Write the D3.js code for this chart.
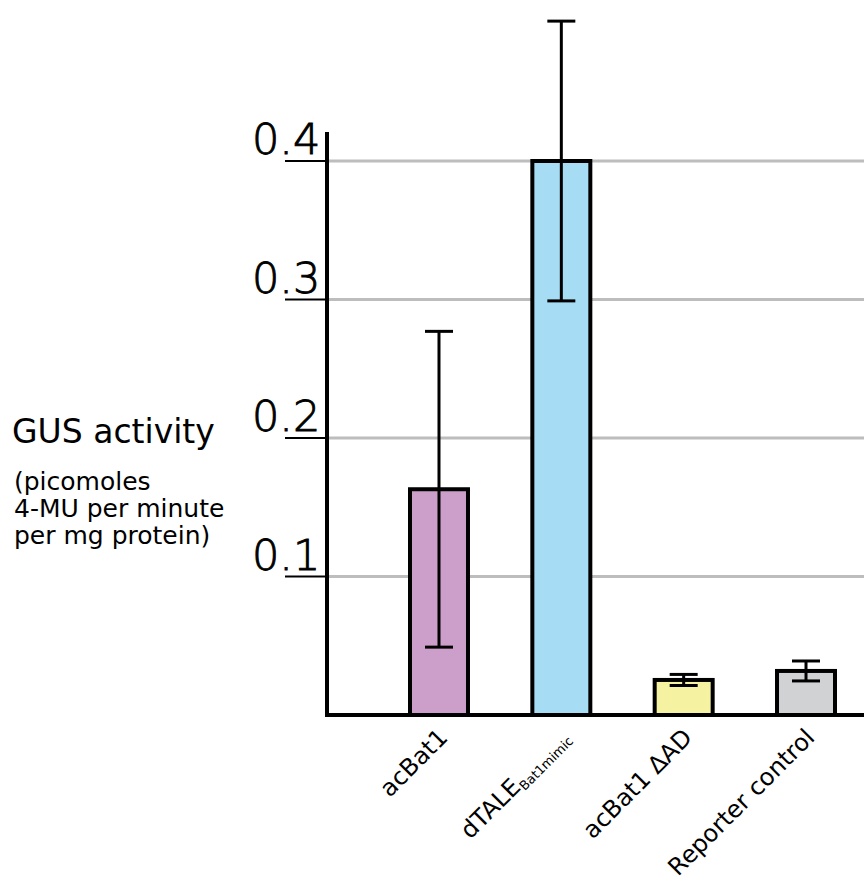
<!DOCTYPE html>
<html>
<head>
<meta charset="utf-8">
<script src="https://cdn.jsdelivr.net/npm/d3@7"></script>
<style>
  html, body { margin: 0; padding: 0; background: #ffffff; }
  svg { display: block; }
  text { font-family: "DejaVu Sans", "Noto Sans", sans-serif; fill: #000; }
</style>
</head>
<body>
<svg id="chart" width="864" height="883"></svg>
<script>
// GUS reporter activity for each construct (mean ± error)
const categories = ["acBat1", "dTALE", "acBat1 \u0394AD", "Reporter control"];
const subscripts = ["", "Bat1mimic", "", ""];
const means = [0.163, 0.400, 0.0253, 0.0318];
const errors = [0.114, 0.101, 0.004, 0.0072];
const barColors = ["#cc9fcb", "#a6ddf5", "#f5f3a2", "#d1d2d4"];
const yTicks = [0.1, 0.2, 0.3, 0.4];
const yTickLabels = ["0.1", "0.2", "0.3", "0.4"];
const titleLines = ["(picomoles", "4-MU per minute", "per mg protein)"];

const svg = d3.select("#chart");
const width = 864;

const y = d3.scaleLinear().domain([0, 0.4]).range([715, 161]);
const x = d3.scaleBand().domain(categories).range([410, 835])
  .paddingInner(0.526).paddingOuter(0);

const axisX = 327;

// horizontal gridlines
svg.append("g").selectAll("line").data(yTicks).join("line")
  .attr("x1", axisX).attr("x2", width)
  .attr("y1", d => y(d)).attr("y2", d => y(d))
  .attr("stroke", "#bdbdbd").attr("stroke-width", 3);

// short tick marks under the labels
svg.append("g").selectAll("line").data(yTicks).join("line")
  .attr("x1", 285).attr("x2", axisX)
  .attr("y1", d => y(d)).attr("y2", d => y(d))
  .attr("stroke", "#000").attr("stroke-width", 2);

// tick labels
svg.append("g").selectAll("text").data(yTicks).join("text")
  .attr("x", 252).attr("y", d => y(d) - 7)
  .attr("font-size", 43).attr("font-weight", 200)
  .attr("stroke", "#000").attr("stroke-width", 0.9)
  .text((d, i) => yTickLabels[i]);

// bars
svg.append("g").selectAll("rect").data(categories).join("rect")
  .attr("x", d => x(d)).attr("width", x.bandwidth())
  .attr("y", (d, i) => y(means[i]))
  .attr("height", (d, i) => y(0) - y(means[i]))
  .attr("fill", (d, i) => barColors[i])
  .attr("stroke", "#000").attr("stroke-width", 4);

// error bars
const eb = svg.append("g").attr("stroke", "#000").attr("stroke-width", 3);
const capHalf = 14;
categories.forEach((c, i) => {
  const cx = x(c) + x.bandwidth() / 2;
  const hi = y(means[i] + errors[i]);
  const lo = y(means[i] - errors[i]);
  eb.append("line").attr("x1", cx).attr("x2", cx).attr("y1", hi).attr("y2", lo);
  eb.append("line").attr("x1", cx - capHalf).attr("x2", cx + capHalf).attr("y1", hi).attr("y2", hi);
  eb.append("line").attr("x1", cx - capHalf).attr("x2", cx + capHalf).attr("y1", lo).attr("y2", lo);
});

// axis lines
svg.append("line").attr("x1", axisX).attr("x2", axisX)
  .attr("y1", y(0.421)).attr("y2", y(0) + 2)
  .attr("stroke", "#000").attr("stroke-width", 4);
svg.append("line").attr("x1", axisX - 2).attr("x2", width)
  .attr("y1", y(0)).attr("y2", y(0))
  .attr("stroke", "#000").attr("stroke-width", 4);

// rotated category labels
const labels = svg.append("g").selectAll("text").data(categories).join("text")
  .attr("text-anchor", "end")
  .attr("font-size", 24)
  .attr("transform", d => `translate(${x(d) + x.bandwidth() / 2 + 10},739) rotate(-45)`);
labels.append("tspan").text(d => d);
labels.append("tspan")
  .attr("font-size", 13).attr("dy", 4)
  .text((d, i) => subscripts[i]);

// y-axis title
svg.append("text").attr("x", 12).attr("y", 443)
  .attr("font-size", 33).text("GUS activity");
svg.append("g").selectAll("text").data(titleLines).join("text")
  .attr("x", 14).attr("y", (d, i) => 490 + i * 27)
  .attr("font-size", 25).text(d => d);
</script>
</body>
</html>
